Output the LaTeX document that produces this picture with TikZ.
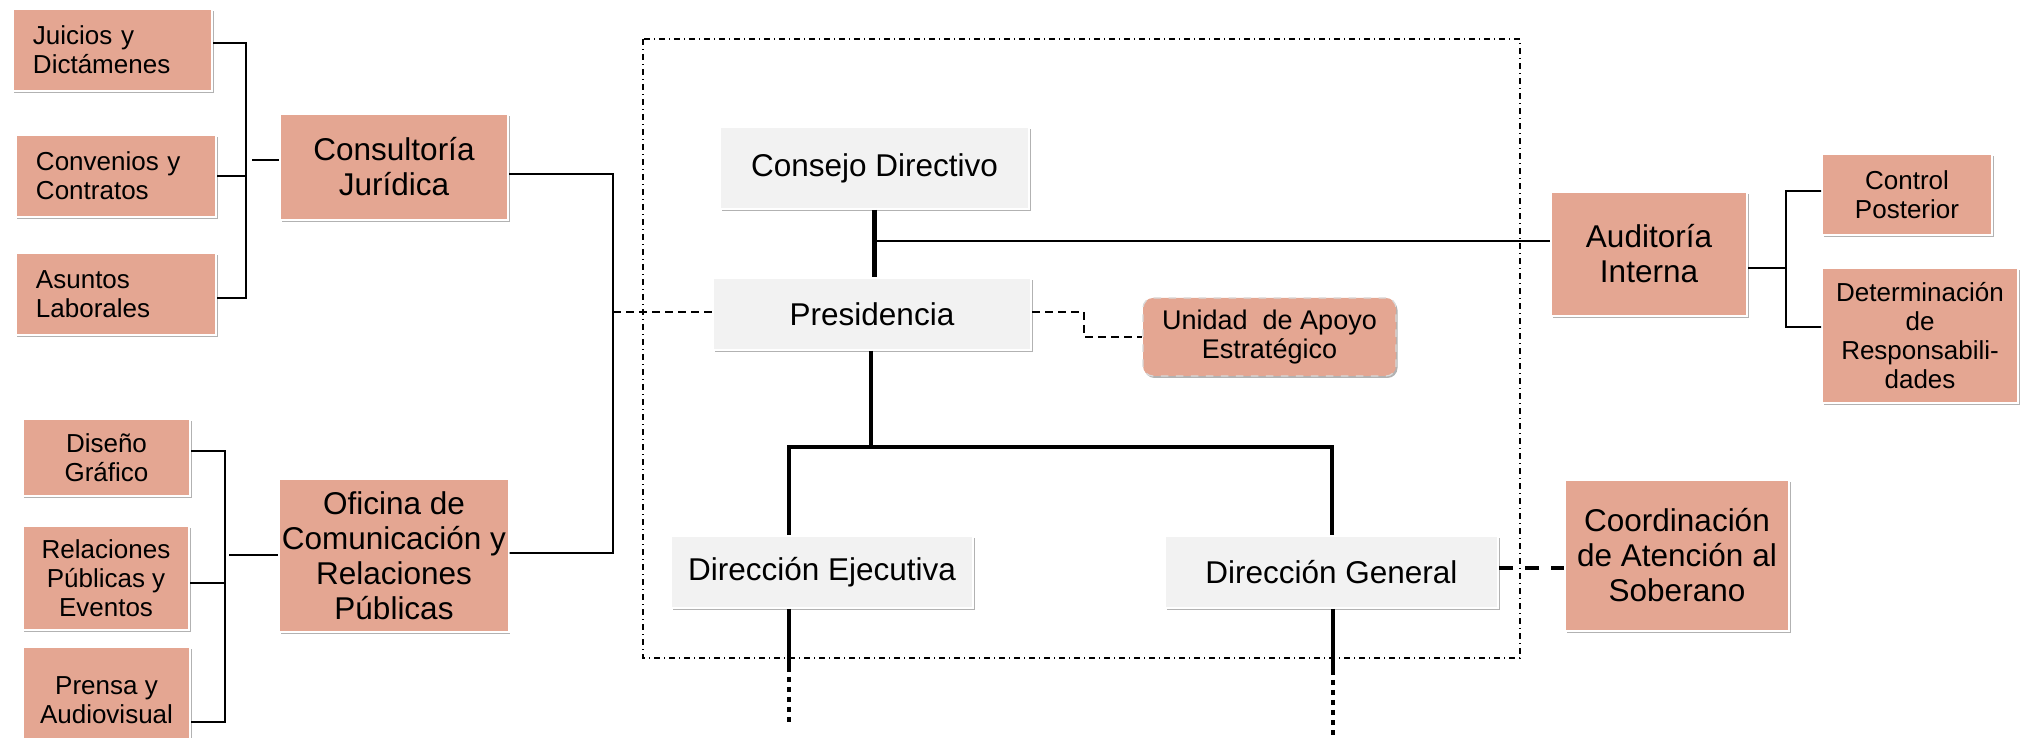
\documentclass[tikz,border=0pt]{standalone}
\usepackage{fontspec}
\setmainfont{Liberation Sans}
\usetikzlibrary{shadows,calc}
\definecolor{salmon}{RGB}{228,166,146}
\definecolor{lgray}{RGB}{242,242,242}
\tikzset{
 boxbase/.style={draw=white, line width=0.8pt, inner sep=1pt, align=center,
   drop shadow={shadow xshift=0.6pt, shadow yshift=-0.8pt, opacity=0.3, fill=black}},
 sal/.style={boxbase, fill=salmon},
 gry/.style={boxbase, fill=lgray},
 big/.style={font=\fontsize{12.6}{14}\selectfont},
 small/.style={font=\fontsize{10.4}{11.6}\selectfont},
 conn/.style={line width=0.7pt},
 dsh/.style={line width=0.7pt, dash pattern=on 3.2pt off 2pt},
 thk/.style={line width=1.8pt},
 thkdash/.style={line width=1.8pt, dash pattern=on 2pt off 2pt},
 thkdashb/.style={line width=1.6pt, dash pattern=on 5.6pt off 4.8pt},
 framesty/.style={line width=0.5pt, dash pattern=on 2.4pt off 1.6pt on 0.4pt off 1.6pt},
}
\begin{document}
\begin{tikzpicture}[x=0.4pt,y=-0.4pt]
\useasboundingbox (0,0) rectangle (2021,738);

% frame
\coordinate (f1) at (643,39);
\coordinate (f2) at (1520,658);
\draw[framesty] (f1) rectangle (f2);

% left upper group
\node[sal, small, align=left, text width=63.6pt, inner xsep=8pt, minimum height=32.8pt] (jd) at (112.5,50) {Juicios y\\Dictámenes};
\node[sal, small, align=left, text width=64pt, inner xsep=8pt, minimum height=32.8pt] (cc) at (116,176) {Convenios y\\Contratos};
\node[sal, small, align=left, text width=64pt, inner xsep=8pt, minimum height=32.8pt] (al) at (116,294) {Asuntos\\Laborales};
\node[sal, big, minimum width=91.2pt, minimum height=42.4pt] (cj) at (394,167) {Consultoría\\Jurídica};

% left lower group
\node[sal, small, minimum width=66.8pt, minimum height=30.8pt] (dsg) at (106.5,457.5) {Diseño\\Gráfico};
\node[sal, small, minimum width=66.4pt, minimum height=41.6pt] (rp) at (106,578) {Relaciones\\Públicas y\\Eventos};
\node[sal, small, minimum width=66.8pt, minimum height=42.4pt] (pa) at (106.5,700) {Prensa y\\Audiovisual};
\node[sal, big, minimum width=91.2pt, minimum height=61.2pt] (oc) at (394,555.5) {Oficina de\\Comunicación y\\Relaciones\\Públicas};

% central
\node[gry, big, minimum width=123.6pt, minimum height=32.8pt] (cd) at (874.5,168) {Consejo Directivo};
\node[gry, big, minimum width=127.2pt, minimum height=28.8pt] (pr) at (872,314) {Presidencia};
\node[sal, font=\fontsize{10.8}{11.6}\selectfont, minimum width=101.2pt, minimum height=31.2pt, rounded corners=4pt, draw=black!15, dashed, line width=0.5pt] (ua) at (1269.5,337) {Unidad\ \ de Apoyo\\Estratégico};
\node[gry, big, minimum width=120.8pt, minimum height=28.8pt] (de) at (822,572) {Dirección Ejecutiva};
\node[gry, big, minimum width=133.2pt, minimum height=28.8pt] (dgen) at (1331.5,572) {Dirección General};

% right
\node[sal, big, minimum width=78.4pt, minimum height=49.6pt] (ai) at (1649,254) {Auditoría\\Interna};
\node[sal, small, minimum width=68pt, minimum height=32.4pt] (cp) at (1907,194.5) {Control\\Posterior};
\node[sal, small, minimum width=78.4pt, minimum height=54pt] (dr) at (1920,335.5) {Determinación\\de\\Responsabili-\\dades};
\node[sal, big, minimum width=89.6pt, minimum height=60.4pt] (ca) at (1677,555.5) {Coordinación\\de Atención al\\Soberano};

% left upper connectors
\coordinate (b1) at (246,43);
\coordinate (b2) at (246,298);
\draw[conn] ([yshift=2.8pt]jd.east) -- (b1) -- (b2) -- ([yshift=-1.6pt]al.east);
\draw[conn] (cc.east) -- (cc.east -| b1);
\coordinate (cjl) at (252,160);
\draw[conn] (cjl) -- (cjl -| cj.west);

% left lower connectors
\coordinate (c1) at (225,451);
\coordinate (c2) at (225,722);
\draw[conn] ([yshift=2.6pt]dsg.east) -- (c1) -- (c2) -- ([yshift=-8.8pt]pa.east);
\draw[conn] ([yshift=-2pt]rp.east) -- ([yshift=-2pt]rp.east -| c1);
\coordinate (ocl) at (229,555);
\draw[conn] (ocl) -- (ocl -| oc.west);

% trunk
\coordinate (t1) at (613,174);
\coordinate (t2) at (613,553);
\draw[conn] ([yshift=-2.8pt]cj.east) -- (t1) -- (t2) -- ([yshift=1pt]oc.east);
\coordinate (t3) at (613,312);
\draw[dsh] (t3) -- (t3 -| pr.west);

% presidencia to unidad
\coordinate (u1) at (1084,337);
\draw[dsh] ([yshift=0.8pt]pr.east) -| (u1) -- (ua.west);

% consejo - presidencia
\draw[thk] (cd.south) -- (cd.south |- pr.north);
\coordinate (a0) at (876,241);
\draw[conn] (a0) -- (a0 -| ai.west);

% presidencia down
\coordinate (h) at (871,447);
\coordinate (hl) at (789,447);
\coordinate (hr) at (1332,447);
\draw[thk] (pr.south -| h) -- (h);
\draw[thk] (hl |- de.north) -- (hl) -- (hr) -- (hr |- dgen.north);

% below directions
\coordinate (de1) at (789,667);
\coordinate (de2) at (789,726);
\draw[thk] (de.south -| de1) -- (de1);
\draw[thkdash] (de1) -- (de2);
\coordinate (dg1) at (1333,670);
\coordinate (dg2) at (1333,740);
\draw[thk] (dgen.south -| dg1) -- (dg1);
\draw[thkdash] (dg1) -- (dg2);

% DG to coordinacion
\draw[thkdashb] ([yshift=1.6pt]dgen.east) -- ([yshift=1.6pt]dgen.east -| ca.west);

% auditoria bracket
\coordinate (ab1) at (1786,191);
\coordinate (ab2) at (1786,327);
\draw[conn] ([yshift=-5.6pt]ai.east) -- ([yshift=-5.6pt]ai.east -| ab1);
\draw[conn] ([yshift=1.4pt]cp.west) -- (ab1) -- (ab2) -- ([yshift=3.4pt]dr.west);
\end{tikzpicture}
\end{document}
